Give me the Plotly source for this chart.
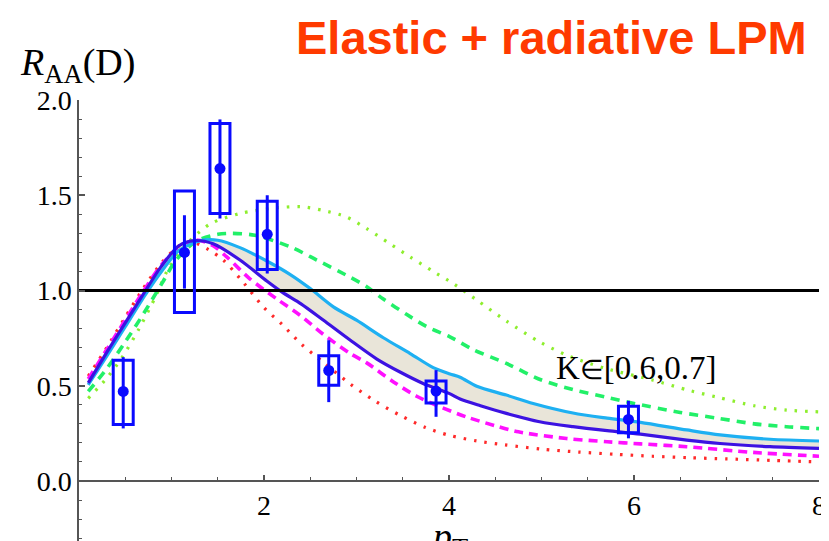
import numpy as np
import plotly.graph_objects as go

# ---------------- data ----------------
red_x = [0.1, 0.3, 0.5, 0.7, 0.9, 1.1, 1.22, 1.4, 1.56, 1.78, 2.0, 2.2, 2.4, 2.65, 2.93, 3.2, 3.47, 3.75, 4.0, 4.3, 4.6, 5.0, 5.4, 5.8, 6.2, 6.6, 7.0, 7.5, 8.0]
red_y = [0.55, 0.70, 0.86, 1.015, 1.15, 1.24, 1.255, 1.215, 1.16, 1.04, 0.91, 0.82, 0.72, 0.62, 0.51, 0.42, 0.345, 0.28, 0.24, 0.21, 0.19, 0.167, 0.152, 0.14, 0.13, 0.122, 0.116, 0.108, 0.10]

magenta_x = [0.1, 0.3, 0.5, 0.7, 0.9, 1.1, 1.27, 1.45, 1.6, 1.85, 2.14, 2.39, 2.64, 2.93, 3.11, 3.4, 3.65, 3.9, 4.19, 4.5, 4.75, 5.27, 5.71, 6.07, 6.57, 7.29, 8.0]
magenta_y = [0.535, 0.69, 0.845, 1.0, 1.14, 1.235, 1.265, 1.235, 1.175, 1.06, 0.955, 0.87, 0.77, 0.67, 0.62, 0.52, 0.445, 0.39, 0.336, 0.29, 0.258, 0.223, 0.206, 0.195, 0.18, 0.15, 0.13]

darkblue_x = [0.1, 0.3, 0.5, 0.72, 0.88, 1.08, 1.25, 1.45, 1.74, 2.03, 2.2, 2.4, 2.64, 2.93, 3.22, 3.47, 3.72, 4.0, 4.12, 4.34, 4.62, 4.98, 5.34, 5.71, 6.07, 6.57, 6.93, 7.47, 8.0]
darkblue_y = [0.515, 0.675, 0.83, 1.0, 1.12, 1.235, 1.262, 1.245, 1.16, 1.05, 0.99, 0.93, 0.845, 0.74, 0.64, 0.572, 0.512, 0.46, 0.43, 0.395, 0.355, 0.311, 0.285, 0.264, 0.246, 0.215, 0.197, 0.18, 0.171]

lightblue_x = [0.1, 0.3, 0.5, 0.72, 0.9, 1.08, 1.3, 1.5, 1.74, 2.03, 2.28, 2.5, 2.75, 3.0, 3.29, 3.58, 3.83, 4.01, 4.12, 4.3, 4.62, 4.91, 5.34, 5.71, 6.07, 6.57, 6.93, 7.47, 8.0]
lightblue_y = [0.505, 0.655, 0.81, 0.98, 1.105, 1.21, 1.26, 1.264, 1.225, 1.155, 1.085, 1.01, 0.914, 0.844, 0.752, 0.669, 0.595, 0.562, 0.545, 0.497, 0.451, 0.407, 0.357, 0.33, 0.308, 0.268, 0.242, 0.219, 0.21]

green_x = [0.1, 0.3, 0.5, 0.7, 0.9, 1.05, 1.27, 1.5, 1.65, 1.9, 2.28, 2.57, 2.93, 3.11, 3.29, 3.54, 3.76, 4.01, 4.26, 4.62, 5.0, 5.34, 5.7, 6.0, 6.5, 6.9, 7.3, 7.65, 8.0]
green_y = [0.47, 0.59, 0.73, 0.88, 1.04, 1.16, 1.26, 1.295, 1.30, 1.29, 1.23, 1.16, 1.07, 1.02, 0.955, 0.875, 0.81, 0.757, 0.69, 0.617, 0.53, 0.48, 0.44, 0.407, 0.36, 0.33, 0.30, 0.285, 0.275]

lightgreen_x = [0.1, 0.3, 0.47, 0.65, 0.83, 0.95, 1.08, 1.2, 1.42, 1.74, 2.1, 2.4, 2.64, 2.89, 3.11, 3.36, 3.58, 3.83, 4.05, 4.3, 4.62, 4.98, 5.3, 5.7, 6.2, 6.6, 6.9, 7.3, 7.65, 8.0]
lightgreen_y = [0.434, 0.54, 0.652, 0.8, 0.97, 1.10, 1.195, 1.262, 1.35, 1.404, 1.432, 1.44, 1.42, 1.386, 1.325, 1.246, 1.176, 1.10, 1.035, 0.95, 0.84, 0.73, 0.655, 0.59, 0.53, 0.475, 0.44, 0.395, 0.372, 0.363]

# measured D-meson R_AA points
pt_x = [0.478, 1.14, 1.524, 2.035, 2.70, 3.86, 5.94]
raa_y = [0.47, 1.20, 1.64, 1.295, 0.58, 0.472, 0.323]
stat_plus = [0.18, 0.195, 0.258, 0.205, 0.159, 0.11, 0.098]
stat_minus = [0.194, 0.19, 0.262, 0.206, 0.166, 0.135, 0.099]
sys_lo = [0.297, 0.885, 1.404, 1.11, 0.503, 0.41, 0.253]
sys_hi = [0.634, 1.522, 1.876, 1.468, 0.657, 0.525, 0.393]

ref_x = [0, 8]
ref_y = [1.0, 1.0]

x_tick_vals = [2, 4, 6, 8]
x_tick_text = ["2", "4", "6", "8"]
y_tick_vals = [0.0, 0.5, 1.0, 1.5, 2.0]
y_tick_text = ["0.0", "0.5", "1.0", "1.5", "2.0"]

title_text = "Elastic + radiative LPM"
k_label = "K<span style='font-size:27px'>\u2208</span>[0.6,0.7]"

# ---------------- style ----------------
BLUE = "#0a0aff"
BOX_HW = 0.108
SERIF = "Liberation Serif, Times New Roman, serif"

fig = go.Figure()

# band between the two solid curves
band_x = darkblue_x + lightblue_x[::-1]
band_y = darkblue_y + lightblue_y[::-1]
fig.add_trace(go.Scatter(x=band_x, y=band_y, fill="toself", fillcolor="#E9E5D9",
                         line=dict(width=0), mode="lines", hoverinfo="skip"))

def curve(x, y, color, dash, width):
    fig.add_trace(go.Scatter(x=x, y=y, mode="lines",
                             line=dict(color=color, dash=dash, width=width, shape="spline", smoothing=0.8)))

curve(lightgreen_x, lightgreen_y, "#8EEE2E", "2.5px,8px", 3.2)
curve(green_x, green_y, "#22F068", "9px,7px", 3.6)
curve(red_x, red_y, "#FF2A2A", "2.5px,8px", 3.2)
curve(magenta_x, magenta_y, "#FF10FF", "9px,6px", 3.6)
curve(lightblue_x, lightblue_y, "#1EB0F2", "solid", 3.2)
curve(darkblue_x, darkblue_y, "#3C12E2", "solid", 3.2)

# reference line R_AA = 1
fig.add_trace(go.Scatter(x=ref_x, y=ref_y, mode="lines", line=dict(color="black", width=3)))

# data points with statistical error bars
fig.add_trace(go.Scatter(
    x=pt_x, y=raa_y, mode="markers",
    marker=dict(color=BLUE, size=11),
    error_y=dict(type="data", symmetric=False, array=stat_plus, arrayminus=stat_minus,
                 color=BLUE, thickness=3, width=0),
))

# systematic boxes
for cx, lo, hi in zip(pt_x, sys_lo, sys_hi):
    fig.add_shape(type="rect", xref="x", yref="y", x0=cx - BOX_HW, x1=cx + BOX_HW, y0=lo, y1=hi,
                  line=dict(color=BLUE, width=3), layer="above")

# ---------------- layout ----------------
OFF = 8                      # page body margin of the browser
W, H = 829 - OFF, 541 - OFF
ML, MR, MT, MB = 79 - OFF, 10, 100 - OFF, 0
YMIN, YMAX = -0.315, 2.0
plot_h = H - MT - MB
x_axis_pos = (0 - YMIN) / (YMAX - YMIN)

axis_col = "#555555"
fig.update_layout(
    width=W, height=H,
    margin=dict(l=ML, r=MR, t=MT, b=MB, pad=0, autoexpand=False),
    paper_bgcolor="white", plot_bgcolor="white",
    showlegend=False,
    xaxis=dict(range=[0, 8], anchor="free", position=x_axis_pos, automargin=False,
               showgrid=False, zeroline=False, showline=True, linecolor=axis_col, linewidth=1.5,
               ticks="inside", ticklen=5, tickwidth=1.5, tickcolor=axis_col,
               tickmode="array", tickvals=x_tick_vals, ticktext=x_tick_text,
               tickfont=dict(family=SERIF, size=28, color="black"),
               minor=dict(tickmode="array", tickvals=list(np.arange(0.5, 8.0, 0.5)),
                          ticks="inside", ticklen=3, tickwidth=1.2, tickcolor=axis_col)),
    yaxis=dict(range=[YMIN, YMAX], automargin=False, showgrid=False, zeroline=False, showline=True,
               linecolor=axis_col, linewidth=1.5,
               ticks="inside", ticklen=6, tickwidth=1.5, tickcolor=axis_col,
               tickmode="array", tickvals=y_tick_vals, ticktext=y_tick_text,
               tickfont=dict(family=SERIF, size=28, color="black"),
               minor=dict(tickmode="array", tickvals=list(np.round(np.arange(-0.3, 2.0, 0.1), 2)),
                          ticks="inside", ticklen=3, tickwidth=1.2, tickcolor=axis_col)),
)

def px_x(p):
    return (p - OFF - ML) / (W - ML - MR)

def px_y(p):
    return (H - MB - (p - OFF)) / plot_h

fig.add_annotation(text="<b>" + title_text + "</b>", xref="paper", yref="paper",
                   x=px_x(809), y=px_y(37), xanchor="right", yanchor="middle", showarrow=False,
                   font=dict(family="Liberation Sans, Arial, sans-serif", size=47, color="#FF3A00"))
fig.add_annotation(text="<i>R</i><sub>AA</sub>(D)", xref="paper", yref="paper",
                   x=px_x(18), y=px_y(65), xanchor="left", yanchor="middle", showarrow=False,
                   font=dict(family=SERIF, size=38, color="black"))
fig.add_annotation(text=k_label, xref="x", yref="y", x=5.13, y=0.593,
                   xanchor="left", yanchor="middle", showarrow=False,
                   font=dict(family=SERIF, size=33, color="black"))
fig.add_annotation(text="<i>p</i><sub>T</sub>", xref="x", yref="paper",
                   x=4.0, y=px_y(513), xanchor="center", yanchor="top", showarrow=False,
                   font=dict(family=SERIF, size=38, color="black"))

fig.write_html("out.html")
